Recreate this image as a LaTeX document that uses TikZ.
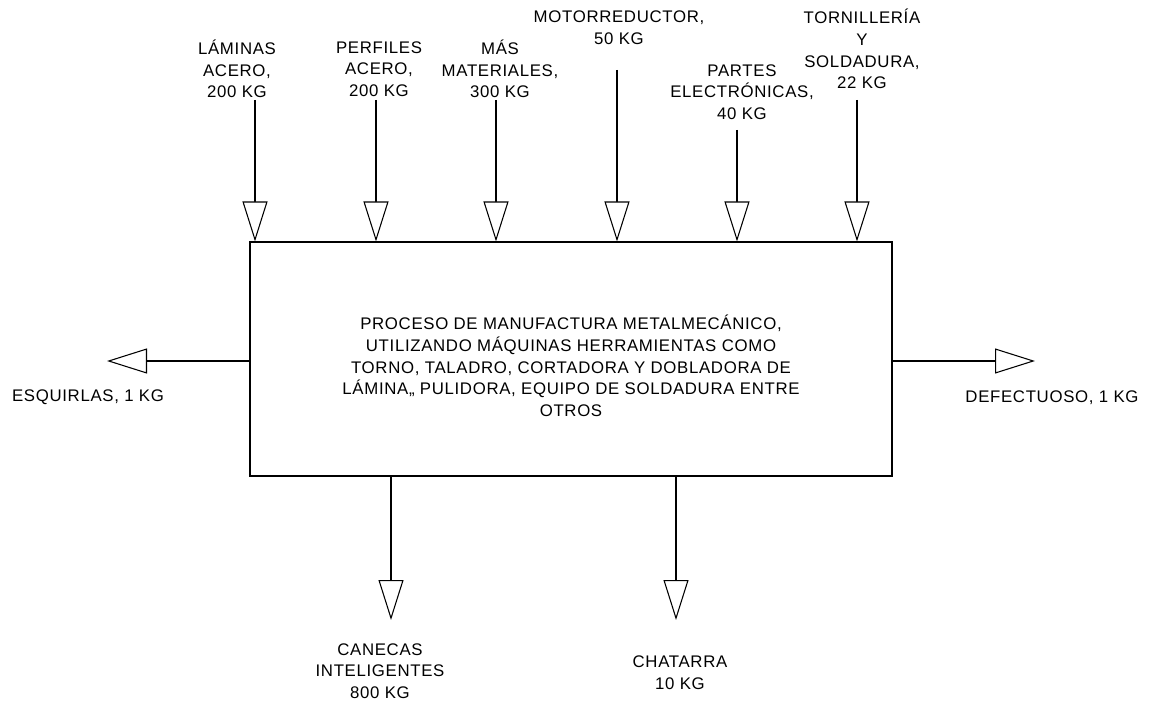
\documentclass[tikz,border=0pt]{standalone}
\usepackage{fontspec}
\setmainfont{Liberation Sans}[LetterSpace=4]
\usetikzlibrary{arrows.meta}
\begin{document}
\begin{tikzpicture}[x=0.75pt,y=-0.75pt,
  lbl/.style={font=\fontsize{12.6}{16.3}\selectfont, align=center, inner sep=0pt},
  procbox/.style={draw, line width=0.8pt, minimum width=481.5pt, minimum height=175.5pt, inner sep=0pt},
  flow/.style={line width=0.8pt, -{Triangle[open, length=30pt, width=18.75pt, line width=0.8pt, fill=white]}}]
\useasboundingbox (0,0) rectangle (1150,702);

% process block
\node[procbox] (box) at (571,359) {};
\node[lbl] (proc) at (571,366) {PROCESO DE MANUFACTURA METALMECÁNICO,\\UTILIZANDO MÁQUINAS HERRAMIENTAS COMO\\TORNO, TALADRO, CORTADORA Y DOBLADORA DE\\LÁMINA,, PULIDORA, EQUIPO DE SOLDADURA ENTRE\\OTROS};

% inputs
\node[lbl] (in1) at (237,69) {LÁMINAS\\ACERO,\\200 KG};
\node[lbl] (in2) at (379,69) {PERFILES\\ACERO,\\200 KG};
\node[lbl] (in3) at (500,69) {MÁS\\MATERIALES,\\300 KG};
\node[lbl] (in4) at (619,28) {MOTORREDUCTOR,\\50 KG};
\node[lbl] (in5) at (742,92) {PARTES\\ELECTRÓNICAS,\\40 KG};
\node[lbl] (in6) at (862,49) {TORNILLERÍA\\Y\\SOLDADURA,\\22 KG};

\coordinate (s1) at (255,100);
\coordinate (s2) at (376,100);
\coordinate (s3) at (496,100);
\coordinate (s4) at (617,70);
\coordinate (s5) at (737,130);
\coordinate (s6) at (857,100);
\foreach \i in {1,...,6}
  \draw[flow] (s\i) -- (s\i |- box.north);

% outputs
\node[lbl] (out1) at (88,397) {ESQUIRLAS, 1 KG};
\node[lbl] (out2) at (1052,398) {DEFECTUOSO, 1 KG};
\node[lbl] (out3) at (380,671) {CANECAS\\INTELIGENTES\\800 KG};
\node[lbl] (out4) at (680,673) {CHATARRA\\10 KG};

\coordinate (e1) at (107,361);
\coordinate (e2) at (1035,361);
\coordinate (e3) at (391,620);
\coordinate (e4) at (676,620);
\draw[flow] (box.west |- e1) -- (e1);
\draw[flow] (box.east |- e2) -- (e2);
\draw[flow] (box.south -| e3) -- (e3);
\draw[flow] (box.south -| e4) -- (e4);
\end{tikzpicture}
\end{document}
